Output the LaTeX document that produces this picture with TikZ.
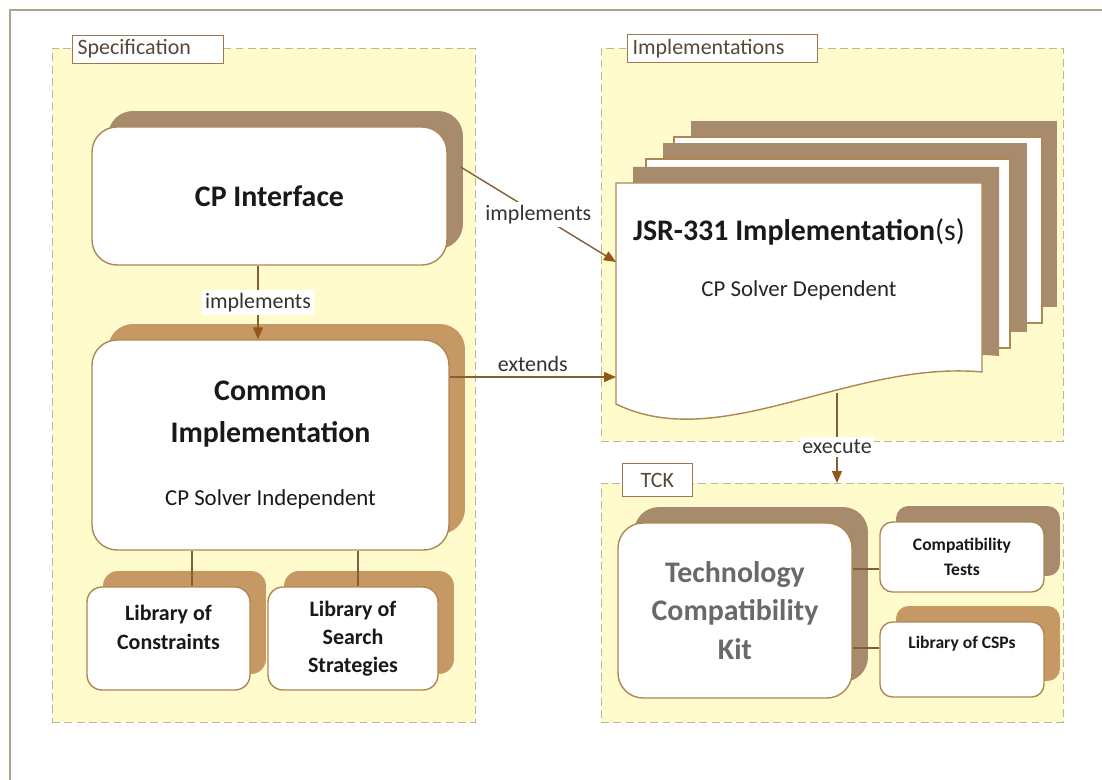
\documentclass[tikz,border=0pt]{standalone}
\usepackage{fontspec}
\setmainfont{Carlito}
\usetikzlibrary{arrows.meta,shadows,positioning}

\definecolor{groupfill}{RGB}{255,251,205}
\definecolor{groupline}{RGB}{190,180,150}
\definecolor{tagline}{RGB}{160,120,80}
\definecolor{tagtext}{RGB}{85,72,60}
\definecolor{shadowA}{RGB}{168,138,108}
\definecolor{shadowB}{RGB}{198,152,100}
\definecolor{boxline}{RGB}{175,135,85}
\definecolor{connline}{RGB}{130,95,55}
\definecolor{tipbrown}{RGB}{150,85,25}
\definecolor{frameline}{RGB}{176,160,140}
\definecolor{tckgrey}{RGB}{105,105,105}

\tikzset{%
  >={Triangle[width=2mm,length=2.4mm,color=tipbrown]},
  % Specifications for style of nodes:
         group/.style = {rectangle, draw=groupline, fill=groupfill, dashed,
                         dash pattern=on 4.5pt off 2.5pt, inner sep=0pt,
                         outer sep=0pt},
           tag/.style = {rectangle, draw=tagline, fill=white, anchor=west,
                         minimum height=0.56cm, inner xsep=3pt, inner ysep=0pt,
                         align=left, text=tagtext,
                         font=\fontsize{12.5}{15}\selectfont},
          base/.style = {rectangle, draw=boxline, line width=0.8pt, fill=white,
                         align=center, inner sep=2pt, text=black!90},
        bigbox/.style = {base, rounded corners=0.5cm,
                         font=\fontsize{17}{22}\selectfont\bfseries},
      smallbox/.style = {base, rounded corners=0.3cm,
                         font=\fontsize{12.5}{16}\selectfont\bfseries},
       tinybox/.style = {base, rounded corners=0.25cm,
                         font=\fontsize{10}{14}\selectfont\bfseries},
    brownshade/.style = {drop shadow={shadow xshift=0.32cm, shadow yshift=0.32cm,
                         fill=shadowA, opacity=1}},
      tanshade/.style = {drop shadow={shadow xshift=0.32cm, shadow yshift=0.32cm,
                         fill=shadowB, opacity=1}},
          page/.style = {draw=boxline, line width=0.8pt, fill=white},
          conn/.style = {draw=connline, line width=0.8pt},
           lbl/.style = {fill=white, inner sep=1.5pt, text=black!80,
                         font=\fontsize{12.5}{15}\selectfont},
}

\begin{document}
\begin{tikzpicture}[x=0.02cm, y=-0.02cm]

\useasboundingbox (0,0) rectangle (1102,780);

% outer frame
\draw[frameline, line width=1.1pt] (10,780) -- (10,10) -- (1102,10);

% groups
\node (specGrp) [group, minimum width=8.46cm, minimum height=13.48cm] at (263.5,385) {};
\node (implGrp) [group, minimum width=9.24cm, minimum height=7.86cm] at (832,244.5) {};
\node (tckGrp)  [group, minimum width=9.24cm, minimum height=4.78cm] at (832,602.5) {};

\node (specTag) [tag, text width=2.8cm] at (72,49) {Specification};
\node (implTag) [tag, text width=3.58cm] at (627,48.5) {Implementations};
\node (tckTag)  [tag, text width=1.19cm, align=center, minimum height=0.66cm] at (622,480) {TCK};

% specification
\node (CP) [bigbox, brownshade, minimum width=7.1cm, minimum height=2.76cm] at (269.5,196) {CP Interface};

\node (CI) [bigbox, tanshade, minimum width=7.14cm, minimum height=4.2cm] at (270.5,445)
  {Common\\[2pt]Implementation\\[14pt]{\fontsize{13}{16}\selectfont\mdseries CP Solver Independent}};

\node (LC) [smallbox, tanshade, minimum width=3.26cm, minimum height=2.06cm, text depth=0.45cm] at (168.5,638.5) {Library of\\Constraints};
\node (LS) [smallbox, tanshade, minimum width=3.4cm, minimum height=2.06cm] at (353,638.5) {Library of\\Search\\Strategies};

% implementations (stack of pages)
\fill[shadowA] (691,121) rectangle (1057,307);
\filldraw[page] (674,137) rectangle (1042,323);
\fill[shadowA] (663,143) rectangle (1027,332);
\filldraw[page] (646,159) rectangle (1010,348);
\begin{scope}[shift={(17,-16)}]
  \fill[shadowA] (616,183) -- (982,183) -- (982,372)
    .. controls (850,360) and (720,455) .. (616,404) -- cycle;
\end{scope}
\filldraw[page] (616,183) -- (982,183) -- (982,372)
  .. controls (850,360) and (720,455) .. (616,404) -- cycle;

\node (JSR)    [font=\fontsize{17}{20}\selectfont, text=black!90] at (799,232) {\textbf{JSR-331 Implementation}(s)};
\node (JSRsub) [font=\fontsize{13}{16}\selectfont, text=black!85] at (799,290) {CP Solver Dependent};

\coordinate (implTip)  at (616,262);
\coordinate (extTip)   at (616,377);
\coordinate (exeStart) at (837,393);

% TCK
\node (TCK) [bigbox, brownshade, text=tckgrey, minimum width=4.68cm, minimum height=3.5cm] at (735,610.5)
  {Technology\\Compatibility\\Kit};
\node (CT)  [tinybox, brownshade, minimum width=3.28cm, minimum height=1.4cm] at (962,557) {Compatibility\\Tests};
\node (CSP) [tinybox, tanshade, minimum width=3.28cm, minimum height=1.5cm, text depth=0.7cm] at (962,659.5) {Library of CSPs};

% connectors
\draw[conn,->] ([xshift=-0.23cm]CP.south) -- node[lbl] {implements} ([xshift=-0.23cm]CP.south |- CI.north);
\draw[conn,->] ([shift={(13,-29)}]CP.east) -- node[lbl] {implements} (implTip);
\draw[conn,->] (CI.east |- extTip) -- node[lbl, above=1pt] {extends} (extTip);
\draw[conn,->] (exeStart) -- node[lbl, pos=0.6] {execute} (exeStart |- tckGrp.north);

\draw[conn] ([xshift=0.47cm]LC.north) -- ([xshift=0.47cm]LC.north |- CI.south);
\draw[conn] ([xshift=0.1cm]LS.north) -- ([xshift=0.1cm]LS.north |- CI.south);
\draw[conn] ([yshift=-0.24cm]CT.west) -- ([yshift=-0.24cm]CT.west -| TCK.east);
\draw[conn] ([yshift=0.23cm]CSP.west) -- ([yshift=0.23cm]CSP.west -| TCK.east);
\end{tikzpicture}
\end{document}
